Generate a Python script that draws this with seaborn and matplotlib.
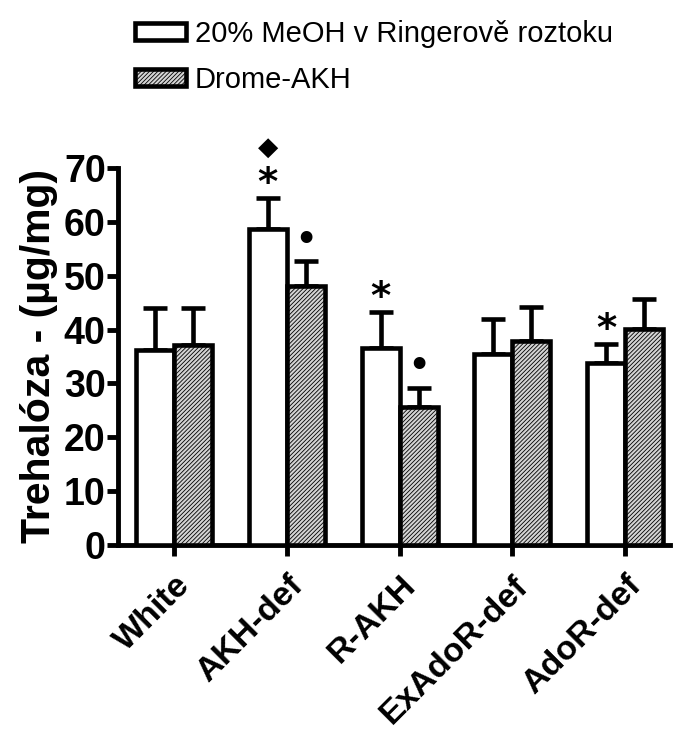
import matplotlib
matplotlib.use("Agg")
import matplotlib.pyplot as plt
import seaborn as sns
import pandas as pd
import numpy as np
from matplotlib.patches import Patch

# ---- data ----
groups = ["White", "AKH-def", "R-AKH", "ExAdoR-def", "AdoR-def"]
series = ["20% MeOH v Ringerově roztoku", "Drome-AKH"]
ctrl_mean = [36.2, 58.6, 36.5, 35.4, 33.8]
ctrl_err = [7.8, 5.8, 6.8, 6.6, 3.5]
akh_mean = [37.1, 48.1, 25.6, 37.8, 40.1]
akh_err = [6.9, 4.6, 3.6, 6.4, 5.5]
y_ticks = [0, 10, 20, 30, 40, 50, 60, 70]
y_label = "Trehalóza - (µg/mg)"
# significance marks: (group index, series index, symbol)
annot_group = [1, 1, 1, 2, 2, 4]
annot_series = [0, 0, 1, 0, 1, 0]
annot_symbol = ["*", "◆", "•", "*", "•", "*"]

df = pd.DataFrame({
    "group": groups * 2,
    "series": [series[0]] * 5 + [series[1]] * 5,
    "mean": ctrl_mean + akh_mean,
    "err": ctrl_err + akh_err,
})

sns.set_theme(style="white")
plt.rcParams["font.family"] = ["Liberation Sans", "DejaVu Sans"]
plt.rcParams["text.color"] = "black"
plt.rcParams["axes.labelcolor"] = "black"
plt.rcParams["xtick.color"] = "black"
plt.rcParams["ytick.color"] = "black"
plt.rcParams["hatch.linewidth"] = 0.6
plt.rcParams["hatch.color"] = "#666666"

fig = plt.figure(figsize=(6.79, 7.33), dpi=100)
ax = fig.add_axes([0.174, 0.2565, 0.813, 0.5143])

lw = 3.3
sns.barplot(data=df, x="group", y="mean", hue="series", order=groups,
            hue_order=series, palette=["white", "#d4d4d4"], errorbar=None,
            width=0.674, edgecolor="black", linewidth=lw, ax=ax,
            legend=False, zorder=3)

patches = [p for p in ax.patches]
tops = {}
for i, p in enumerate(patches[:10]):
    s = i // 5
    g = i % 5
    if s == 1:
        p.set_hatch("////////")
    cx = p.get_x() + p.get_width() / 2
    h = p.get_height()
    e = (ctrl_err if s == 0 else akh_err)[g]
    ax.errorbar([cx], [h], yerr=[[0], [e]], fmt="none", ecolor="black",
                elinewidth=lw, capsize=8.5, capthick=lw, zorder=2)
    tops[(g, s)] = (cx, h + e)

offsets = {"*": 2.6, "•": 3.9, "◆": 9.3}
sizes = {"*": 28, "•": 24, "◆": 19}
for g, s, sym in zip(annot_group, annot_series, annot_symbol):
    cx, top = tops[(g, s)]
    ax.text(cx, top + offsets[sym], sym, ha="center", va="center",
            fontsize=sizes[sym], fontweight="bold", clip_on=False,
            family=["DejaVu Sans"])

ax.set_xlim(-0.497, 4.40)
ax.set_ylim(0, 70)
ax.set_yticks(y_ticks)
ax.set_yticklabels([str(t) for t in y_ticks], fontsize=27, fontweight="bold")
ax.set_xticks(range(len(groups)))
ax.set_xticklabels(groups, fontsize=24.5, fontweight="bold", rotation=45,
                   ha="right", va="top", rotation_mode="anchor")
ax.set_xlabel("")
ax.set_ylabel(y_label, fontsize=29.5, fontweight="bold", labelpad=4)
for side in ["top", "right"]:
    ax.spines[side].set_visible(False)
for side in ["left", "bottom"]:
    ax.spines[side].set_linewidth(3.5)
    ax.spines[side].set_color("black")
ax.tick_params(axis="y", direction="out", length=8, width=3.5,
               color="black", pad=1, left=True)
ax.tick_params(axis="x", direction="out", length=8, width=3.5,
               color="black", pad=10, bottom=True)

handles = [Patch(facecolor="white", edgecolor="black", linewidth=lw),
           Patch(facecolor="#d4d4d4", edgecolor="black", linewidth=lw,
                 hatch="////////")]
fig.legend(handles, series, loc="upper left", bbox_to_anchor=(0.19, 0.981),
           frameon=False, fontsize=21, handlelength=1.75, handleheight=0.5,
           handletextpad=0.3, labelspacing=0.62, borderpad=0.2,
           borderaxespad=0.0)

fig.savefig("out.png", dpi=100)
